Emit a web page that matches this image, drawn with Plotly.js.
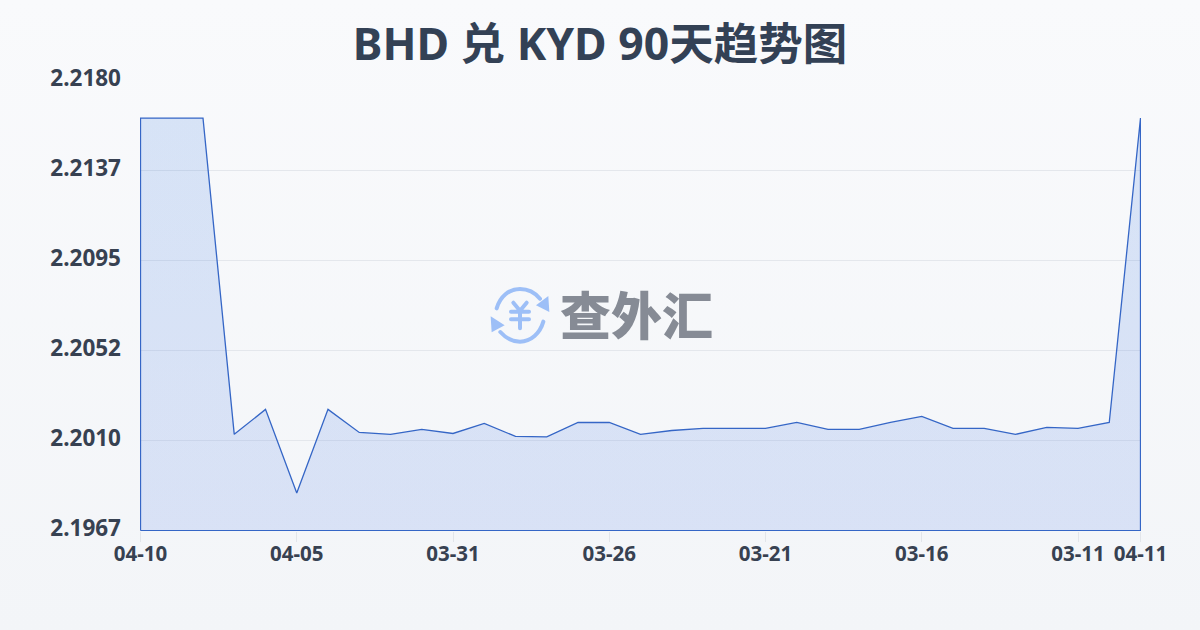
<!DOCTYPE html>
<html><head><meta charset="utf-8">
<script src="https://cdn.plot.ly/plotly-3.0.1.min.js"></script>
<style>html,body{margin:0;padding:0;width:1200px;height:630px;overflow:hidden;background:linear-gradient(180deg,#f9fafc 0%,#f3f5f8 100%);}#c{width:1200px;height:630px}</style>
</head><body><div id="c"></div>
<script>
const categories=["04-10","04-09","04-08","04-07","04-06","04-05","04-04","04-03","04-02","04-01","03-31","03-30","03-29","03-28","03-27","03-26","03-25","03-24","03-23","03-22","03-21","03-20","03-19","03-18","03-17","03-16","03-15","03-14","03-13","03-12","03-11","03-10","04-11"];
const rates=[2.2162,2.2162,2.2162,2.20125,2.20243,2.19848,2.20243,2.20134,2.20125,2.20148,2.20129,2.20177,2.20115,2.20113,2.20181,2.20181,2.20125,2.20143,2.20153,2.20153,2.20153,2.20181,2.20148,2.20148,2.20181,2.2021,2.20153,2.20153,2.20125,2.20158,2.20153,2.20181,2.2162];
const xTicks=["04-10","04-05","03-31","03-26","03-21","03-16","03-11","04-11"];
const yTicks=[2.1967,2.20096,2.20522,2.20948,2.21374,2.2180];
const yLabels=["2.1967","2.2010","2.2052","2.2095","2.2137","2.2180"];
const yBase=2.1967,yTop=2.2180;
const first=categories[0],last=categories[categories.length-1];
const FONT='"Noto Sans","Noto Sans CJK SC",sans-serif';
const logo='<svg xmlns="http://www.w3.org/2000/svg" width="70" height="70" viewBox="0 0 210 210"><g fill="none" stroke="#9dbff7" stroke-width="12" stroke-linecap="round"><path d="M35 85C45 50 72 27 105 27C130 27 150 38 165 56"/><path d="M175 125C165 160 138 185 105 185C82 185 62 174 46 156"/><path d="M85 68L105 92L125 68M105 92V145M78 95H132M78 118H132"/></g><path fill="#9dbff7" d="M190 48L193 96L153 76Z"/><path fill="#9dbff7" d="M17 109L20 157L59 136Z"/></svg>';
const traces=[{type:'scatter',mode:'lines',x:[first].concat(categories,[last,first]),y:[yBase].concat(rates,[yBase,yBase]),fill:'toself',line:{color:'#3566c6',width:1.3,shape:'linear'},fillcolor:'rgba(58,115,225,0.16)',fillgradient:{type:'vertical',colorscale:[[0,'rgba(74,120,229,0.16)'],[1,'rgba(42,112,221,0.16)']]},hoverinfo:'skip',cliponaxis:false}];
const layout={width:1200,height:630,paper_bgcolor:'rgba(0,0,0,0)',plot_bgcolor:'rgba(0,0,0,0)',showlegend:false,
margin:{l:140,r:59,t:80,b:99,pad:0},font:{family:FONT,color:'#374151'},
title:{text:'<b>BHD 兑 KYD 90天趋势图</b>',font:{family:FONT,size:44.5,color:'#334155'},x:0.5,xanchor:'center',y:0.929,yanchor:'middle'},
xaxis:{type:'category',categoryorder:'array',categoryarray:categories,range:[-0.016,categories.length-1+0.016],tickmode:'array',tickvals:xTicks,ticktext:xTicks,showgrid:false,zeroline:false,showline:false,ticks:'outside',ticklen:10,tickwidth:1,tickcolor:'#e2e5ea',tickfont:{family:FONT,size:20.5,color:'#374151',weight:700},ticklabelstandoff:-6},
yaxis:{range:[yBase-0.00002,yTop],tickmode:'array',tickvals:yTicks,ticktext:yLabels,showgrid:true,gridcolor:'#e4e7ec',gridwidth:1,zeroline:false,showline:false,ticks:'',ticklabelshift:-2,tickfont:{family:FONT,size:22.5,color:'#374151',weight:700},ticklabelstandoff:18},
images:[{source:'data:image/svg+xml;utf8,'+encodeURIComponent(logo),xref:'paper',yref:'paper',x:(485-140)/1001,y:1-(280-80)/451,sizex:70/1001,sizey:70/451,xanchor:'left',yanchor:'top',sizing:'stretch',layer:'above'}],
annotations:[{text:'查外汇',xref:'paper',yref:'paper',x:(636-140)/1001,y:1-(313-80)/451,xanchor:'center',yanchor:'middle',showarrow:false,font:{family:'"Noto Sans CJK SC",sans-serif',size:51,color:'#868b95',weight:900}}]};
Plotly.newPlot('c',traces,layout,{displayModeBar:false,staticPlot:true});
</script></body></html>
